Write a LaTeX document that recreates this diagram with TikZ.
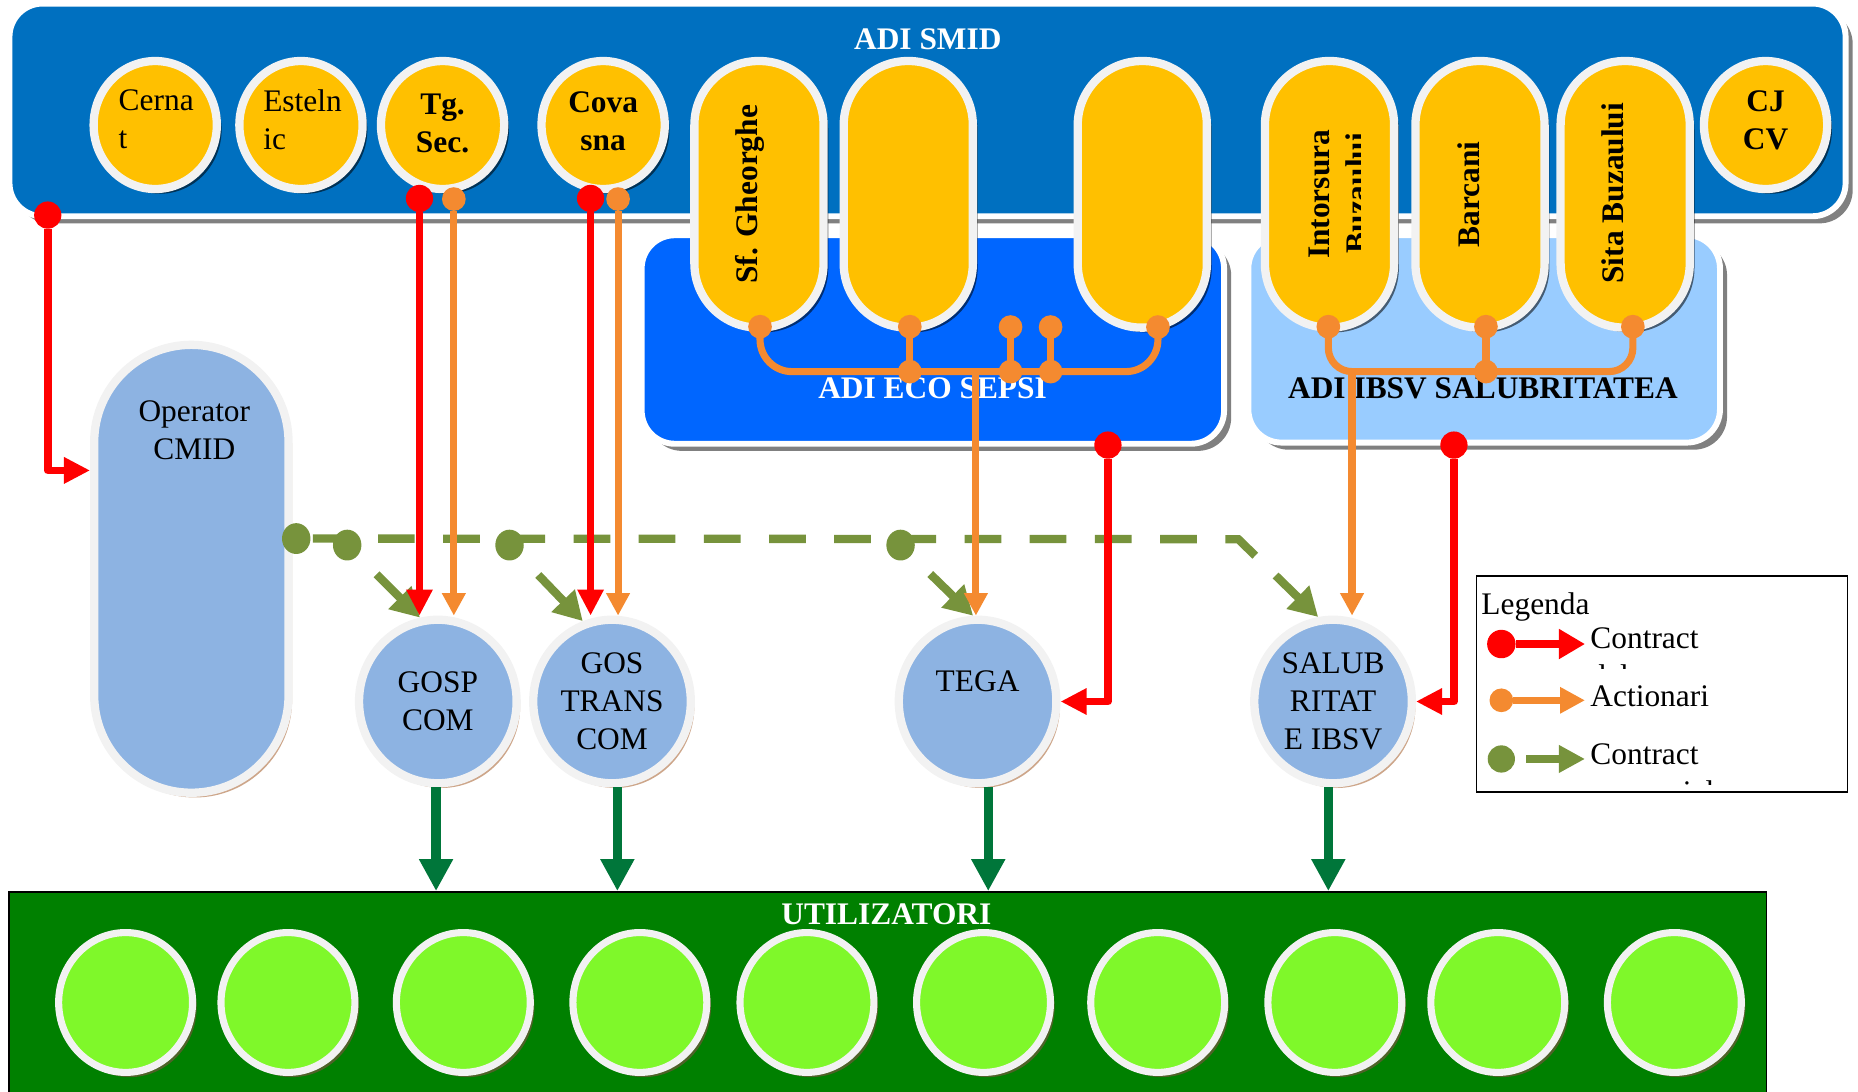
\documentclass[tikz,border=0pt]{standalone}
\usepackage{fontspec}
\setmainfont{Liberation Serif}
\usetikzlibrary{shapes.geometric,shadows,arrows.meta}
\definecolor{smidc}{HTML}{0070C0}
\definecolor{ecoc}{HTML}{0066FF}
\definecolor{ibsvc}{HTML}{99CCFF}
\definecolor{yelc}{HTML}{FFC000}
\definecolor{ringc}{HTML}{F2F2F2}
\definecolor{opc}{HTML}{8DB3E2}
\definecolor{tanc}{HTML}{CDA68A}
\definecolor{limec}{HTML}{7FF82A}
\definecolor{utilc}{HTML}{008000}
\definecolor{olsh}{HTML}{4F6228}
\definecolor{redc}{HTML}{FF0000}
\definecolor{orc}{HTML}{F48A30}
\definecolor{olg}{HTML}{77933C}
\definecolor{dkg}{HTML}{00763A}
\definecolor{boxsh}{HTML}{808080}
\begin{document}
\begin{tikzpicture}[x=1pt,y=-1pt,
  font=\fontsize{26.5}{32}\selectfont,
  adibox/.style={rectangle, rounded corners=28pt, draw=white, line width=5pt, inner sep=0pt,
    drop shadow={shadow xshift=6pt, shadow yshift=-6pt, fill=boxsh, opacity=1}},
  ycirc/.style={ellipse, fill=yelc, draw=ringc, line width=7pt, inner sep=0pt,
    minimum width=104pt, minimum height=108pt,
    drop shadow={shadow xshift=4pt, shadow yshift=-4pt, fill=black, opacity=0.55}},
  ypill/.style={rectangle, rounded corners=54pt, fill=yelc, draw=ringc, line width=7pt, inner sep=0pt,
    minimum width=109pt, minimum height=225pt,
    drop shadow={shadow xshift=4pt, shadow yshift=-4pt, fill=black, opacity=0.55}},
  bcirc/.style={ellipse, fill=opc, draw=ringc, line width=7pt, inner sep=0pt, align=center,
    minimum width=133pt, minimum height=138pt,
    drop shadow={shadow xshift=3pt, shadow yshift=-4pt, fill=tanc, opacity=1}},
  opbox/.style={rectangle, rounded corners=82pt, fill=opc, draw=ringc, line width=7pt, inner sep=0pt,
    minimum width=164pt, minimum height=378pt,
    drop shadow={shadow xshift=3pt, shadow yshift=-4pt, fill=tanc, opacity=1}},
  lcirc/.style={ellipse, fill=limec, draw=ringc, line width=6pt, inner sep=0pt,
    minimum width=113pt, minimum height=118pt,
    drop shadow={shadow xshift=3.5pt, shadow yshift=-4pt, fill=olsh, opacity=1}},
  txt/.style={inner sep=0pt, align=center},
  btxt/.style={inner sep=0pt, align=center, font=\fontsize{26.5}{32}\selectfont\bfseries},
  rdot/.style={circle, fill=redc, minimum size=23pt, inner sep=0pt},
  odot/.style={circle, fill=orc, minimum size=20pt, inner sep=0pt},
  gdot/.style={ellipse, fill=olg, minimum width=24pt, minimum height=26pt, inner sep=0pt},
  redline/.style={draw=redc, line width=6.5pt, line join=round, -{Triangle[length=22pt,width=21pt]}},
  orline/.style={draw=orc, line width=6pt, -{Triangle[length=19pt,width=19pt]}},
  obranch/.style={draw=orc, line width=6pt},
  gdash/.style={draw=olg, line width=7pt, dash pattern=on 31pt off 24pt, dash phase=41pt,
    -{Triangle[length=24pt,width=26pt]}},
  garrow/.style={draw=olg, line width=7pt, -{Triangle[length=24pt,width=26pt]}},
  dgarrow/.style={draw=dkg, line width=8pt, -{Triangle[length=27pt,width=27pt]}},
  legred/.style={draw=redc, line width=7pt, -{Triangle[length=22pt,width=24pt]}},
  legor/.style={draw=orc, line width=6pt, -{Triangle[length=21pt,width=21pt]}},
  leggr/.style={draw=olg, line width=7.5pt, -{Triangle[length=22pt,width=22pt]}}
]
\useasboundingbox (0,0) rectangle (1568,921);

% ---------- association boxes ----------
\node[adibox, fill=ecoc, minimum width=491.5pt, minimum height=176pt] (eco) at (787.25,286.5) {};
\node[adibox, fill=ibsvc, minimum width=398pt, minimum height=175pt] (ibsv) at (1252.5,286) {};
\node[adibox, fill=smidc, minimum width=1549.5pt, minimum height=179.5pt] (smid) at (782.75,92.75) {};
\node[btxt, text=white, anchor=base] (smidT) at (783,42) {ADI SMID};
\node[btxt, text=white, anchor=base] (ecoT) at (787,336) {ADI ECO SEPSI};
\node[btxt, anchor=base] (ibsvT) at (1251.5,336) {ADI IBSV SALUBRITATEA};

% ---------- members ----------
\node[ycirc] (cernat) at (131,105.5) {};
\node[ycirc] (esteln) at (254,105.5) {};
\node[ycirc] (tgsec) at (373.5,105.5) {};
\node[ycirc] (covasna) at (509,105.5) {};
\node[ycirc] (cjcv) at (1490,105.5) {};
\node[ypill] (sfg) at (640.5,164) {};
\node[ypill] (pill2) at (766.5,164) {};
\node[ypill] (pill3) at (964,164) {};
\node[ypill] (intors) at (1122,164) {};
\node[ypill] (barcani) at (1249,164) {};
\node[ypill] (sita) at (1371.5,164) {};

\node[txt, anchor=west, align=left] (cernatT) at (100,101) {Cerna\\t};
\node[txt, anchor=west, align=left] (estelnT) at (222,101) {Esteln\\ic};
\node[btxt] (tgT) at (373.5,104) {Tg.\\Sec.};
\node[btxt] (covT) at (509,102.6) {Cova\\sna};
\node[btxt] (cjT) at (1490,101.5) {CJ\\CV};
\node[btxt, rotate=90, anchor=base] (sfT) at (639.5,164) {Sf. Gheorghe};
\begin{scope}
  \clip (1060,40) rectangle (1148.5,290);
  \node[btxt, rotate=90, anchor=base] (intT) at (1122,164) {Intorsura};
  \node[btxt, rotate=90, anchor=base] (buzT) at (1154,163) {Buzaului};
\end{scope}
\node[btxt, rotate=90, anchor=base] (barT) at (1248.5,164) {Barcani};
\node[btxt, rotate=90, anchor=base] (sitaT) at (1370,163) {Sita Buzaului};

% ---------- operators ----------
\node[opbox] (op) at (161.5,480) {};
\node[txt] (opT) at (164,362.8) {Operator\\CMID};
\node[bcirc] (gosp) at (369.5,592) {GOSP\\COM};
\node[bcirc] (gostrans) at (516.5,592) {GOS\\TRANS\\COM};
\node[bcirc] (tega) at (825,592) {};
\node[txt, anchor=base] (tegaT) at (825,583.7) {TEGA};
\node[bcirc] (salub) at (1125,592) {SALUB\\RITAT\\E IBSV};

% ---------- users ----------
\node[draw=black, line width=1.2pt, fill=utilc, minimum width=1483pt, minimum height=200pt,
      anchor=north west, inner sep=0pt] (util) at (7,752) {};
\node[btxt, text=white, anchor=base] (utilT) at (748,780.6) {UTILIZATORI};
\foreach \i/\x in {1/106,2/243,3/391,4/540,5/681,6/830,7/977,8/1126.5,9/1264,10/1413}
  \node[lcirc] (u\i) at (\x,846) {};

% ---------- legend ----------
\node[draw=black, line width=1.3pt, minimum width=313pt, minimum height=182pt,
      anchor=north west, inner sep=0pt] (leg) at (1245.5,485.5) {};
\node[txt, anchor=base west] (legT) at (1250,519) {Legenda};
\node[rdot, minimum size=24pt] (lr) at (1267,543.5) {};
\coordinate (lrE) at (1337.6,543.5);
\draw[legred] (lr) -- (lrE);
\node[txt, anchor=base west] (lrT) at (1342,547) {Contract};
\begin{scope}
  \clip (1330,549) rectangle (1555,564);
  \node[txt, anchor=base west] (lrT2) at (1342,579) {delegare};
\end{scope}
\node[odot] (lo) at (1267,591) {};
\coordinate (loE) at (1337.6,591);
\draw[legor] (lo) -- (loE);
\node[txt, anchor=base west] (loT) at (1342,596) {Actionari};
\node[gdot, minimum width=23pt, minimum height=23pt] (lg) at (1267,640.5) {};
\coordinate (lgE) at (1337.6,640.5);
\draw[leggr, shorten <=9.5pt] (lg) -- (lgE);
\node[txt, anchor=base west] (lgT) at (1342,645) {Contract};
\begin{scope}
  \clip (1330,650) rectangle (1555,662);
  \node[txt, anchor=base west] (lgT2) at (1342,677) {comercial};
\end{scope}

% ---------- dots ----------
\node[rdot] (smidR) at (40.3,181.5) {};
\node[rdot] (tgR) at (354,167.5) {};
\node[odot] (tgO) at (383,168) {};
\node[rdot] (covR) at (498.4,167.5) {};
\node[odot] (covO) at (521.6,168) {};
\node[rdot] (ecoR) at (935,375.6) {};
\node[rdot] (ibsvR) at (1227,375.6) {};

\node[odot] (e1) at (641.4,275.7) {};
\node[odot] (e2) at (767.8,275.7) {};
\node[odot] (e3) at (852.8,276) {};
\node[odot] (e4) at (886.6,276) {};
\node[odot] (e5) at (977.2,276) {};
\node[odot] (j2) at (767.8,313.6) {};
\node[odot] (j3) at (852.8,313.6) {};
\node[odot] (j4) at (886.6,313.6) {};
\coordinate (ecoB) at (823.6,313.6);

\node[odot] (i1) at (1121,275.7) {};
\node[odot] (i2) at (1254,275.7) {};
\node[odot] (i3) at (1378,275.7) {};
\node[odot] (j5) at (1254,313.6) {};
\coordinate (ibsvB) at (1141,313.6);

\node[gdot] (g0) at (250,454.5) {};
\node[gdot] (g1) at (293,460) {};
\node[gdot] (g2) at (430,460) {};
\node[gdot] (g3) at (760,460) {};
\coordinate (gbend) at (1045,455);

% ---------- green contracts ----------
\draw[gdash] (g0.center) -- (gbend) -- (salub.100);
\draw[garrow, shorten <=35pt] (g1.center) -- (gosp.102);
\draw[garrow, shorten <=35pt] (g2.center) -- (gostrans.110);
\draw[garrow, shorten <=35pt] (g3.center) -- (tega.93);

% ---------- orange shareholding ----------
\draw[obranch, rounded corners=27pt] (e1.center) |- (j2.center) -- (j4.center) -| (e5.center);
\draw[obranch] (e2.center) -- (j2.center);
\draw[obranch] (e3.center) -- (j3.center);
\draw[obranch] (e4.center) -- (j4.center);
\draw[obranch, rounded corners=20pt] (i1.center) |- (j5.center) -| (i3.center);
\draw[obranch] (i2.center) -- (j5.center);
\draw[orline] (ecoB) -- (ecoB |- tega.north);
\draw[orline] (ibsvB) -- (ibsvB |- salub.north);
\draw[orline] (tgO) -- (tgO |- gosp.north);
\draw[orline] (covO) -- (covO |- gostrans.north);

% ---------- red delegation contracts ----------
\draw[redline] (smidR) |- ([yshift=83pt]op.west);
\draw[redline] (tgR) -- (tgR |- gosp.north);
\draw[redline] (covR) -- (covR |- gostrans.north);
\draw[redline] (ecoR) |- (tega.east);
\draw[redline] (ibsvR) |- (salub.east);

% ---------- services to users ----------
\draw[dgarrow] ([xshift=-1.5pt]gosp.south) -- ([xshift=-1.5pt]gosp.south |- util.north);
\draw[dgarrow] ([xshift=4.5pt]gostrans.south) -- ([xshift=4.5pt]gostrans.south |- util.north);
\draw[dgarrow] ([xshift=9pt]tega.south) -- ([xshift=9pt]tega.south |- util.north);
\draw[dgarrow] ([xshift=-4pt]salub.south) -- ([xshift=-4pt]salub.south |- util.north);
\end{tikzpicture}
\end{document}
